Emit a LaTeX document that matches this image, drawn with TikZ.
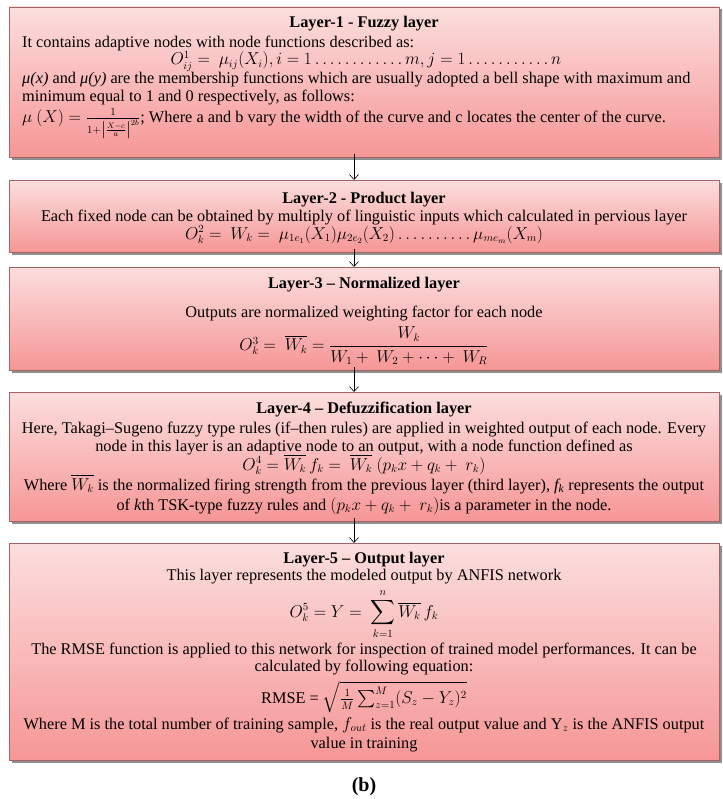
\documentclass[tikz,border=0pt]{standalone}
\usepackage{amsmath}
\usepackage{fontspec}
\setmainfont{Liberation Serif}
\usetikzlibrary{arrows.meta,shadows}
\definecolor{pinktop}{RGB}{252,222,222}
\definecolor{pinkbot}{RGB}{246,150,150}
\definecolor{boxline}{RGB}{165,100,100}
\tikzset{
  layerbox/.style={draw=boxline, line width=0.6bp, top color=pinktop, bottom color=pinkbot,
    drop shadow={shadow xshift=2.5bp, shadow yshift=-2.5bp, fill=black!55, opacity=0.8}},
  txt/.style={inner sep=0pt, anchor=base, font=\fontsize{16.3bp}{18bp}\selectfont},
  ltxt/.style={txt, anchor=base west},
  ttl/.style={txt, font=\fontsize{16.3bp}{18bp}\selectfont\bfseries},
  flow/.style={draw=black, line width=0.6bp, -{Straight Barb[length=5bp,width=9bp]}}
}
\begin{document}
\begin{tikzpicture}[x=1bp,y=-1bp]
\useasboundingbox (0,0) rectangle (723,799);
% boxes
\path[layerbox] (9,7) rectangle (719,157);
\coordinate (b1n) at (354,157);
\path[layerbox] (9,180) rectangle (719,252);
\coordinate (b2s) at (354,180); \coordinate (b2n) at (354,252);
\path[layerbox] (9,267) rectangle (719,370);
\coordinate (b3s) at (354,267); \coordinate (b3n) at (354,370);
\path[layerbox] (9,392) rectangle (719,521);
\coordinate (b4s) at (354,392); \coordinate (b4n) at (354,521);
\path[layerbox] (9,543) rectangle (719,760);
\coordinate (b5s) at (354,543);
% arrows
\draw[flow] ([yshift=3bp]b1n) -- (b2s);
\draw[flow] ([yshift=3bp]b2n) -- (b3s);
\draw[flow] ([yshift=3bp]b3n) -- (b4s);
\draw[flow] ([yshift=3bp]b4n) -- (b5s);
% Layer 1
\node[ttl] (t1) at (364,28) {Layer-1 - Fuzzy layer};
\node[ltxt] (l1a) at (22,48) {It contains adaptive nodes with node functions described as:};
\node[txt] (l1b) at (366,65) {$O^1_{ij} =\ \mu_{ij}(X_i), i = 1\ldots\ldots\ldots\ldots m, j = 1\ldots\ldots\ldots.\,.\,n$};
\node[ltxt] (l1c) at (22,83) {\textit{μ(x)} and \textit{μ(y)} are the membership functions which are usually adopted a bell shape with maximum and};
\node[ltxt] (l1d) at (22,101) {minimum equal to 1 and 0 respectively, as follows:};
\node[ltxt, anchor=west] (l1e) at (22,124) {$\mu\ (X) = \frac{1}{1+\left|\frac{X-c}{a}\right|^{2b}}$; Where a and b vary the width of the curve and c locates the center of the curve.};
% Layer 2
\node[ttl] (t2) at (364,203) {Layer-2 - Product layer};
\node[txt] (l2a) at (364,221) {Each fixed node can be obtained by multiply of linguistic inputs which calculated in pervious layer};
\node[txt] (l2b) at (364,239) {$O_k^2 =\ W_k =\ \mu_{1e_1}(X_1)\mu_{2e_2}(X_2)\ldots\ldots\ldots.\,\mu_{me_m}(X_m)$};
% Layer 3
\node[ttl] (t3) at (364,288) {Layer-3 – Normalized layer};
\node[txt] (l3a) at (364,317) {Outputs are normalized weighting factor for each node};
\node[txt, anchor=center] (l3b) at (364,346) {$O_k^3 =\ \overline{W_k} = \dfrac{W_k}{W_1 +\ W_2 + \cdots +\ W_R}$};
% Layer 4
\node[ttl] (t4) at (364,413) {Layer-4 – Defuzzification layer};
\node[txt] (l4a) at (364,433) {Here, Takagi–Sugeno fuzzy type rules (if–then rules) are applied in weighted output of each node. Every};
\node[txt] (l4b) at (364,451) {node in this layer is an adaptive node to an output, with a node function defined as};
\node[txt] (l4c) at (364,470) {$O_k^4 = \overline{W_k}\,f_k =\ \overline{W_k}\ (p_k x + q_k +\ r_k)$};
\node[txt] (l4d) at (364,490) {Where $\overline{W_k}$ is the normalized firing strength from the previous layer (third layer), \textit{f\textsubscript{k}} represents the output};
\node[txt] (l4e) at (364,510) {of \textit{k}th TSK-type fuzzy rules and $(p_k x + q_k +\ r_k)$is a parameter in the node.};
% Layer 5
\node[ttl] (t5) at (364,563) {Layer-5 – Output layer};
\node[txt] (l5a) at (364,580) {This layer represents the modeled output by ANFIS network};
\node[txt, anchor=center] (l5b) at (364,614) {$\displaystyle O_k^5 = Y =\ \sum_{k=1}^{n}\overline{W_k}\,f_k$};
\node[txt] (l5c) at (364,654) {The RMSE function is applied to this network for inspection of trained model performances. It can be};
\node[txt] (l5d) at (364,671) {calculated by following equation:};
\node[txt, anchor=center] (l5e) at (364,697) {RMSE = $\sqrt{\frac{1}{M}\sum_{z=1}^{M}(S_z - Y_z)^2}$};
\node[txt] (l5f) at (364,729) {Where M is the total number of training sample, $f_{out}$ is the real output value and Y$_z$ is the ANFIS output};
\node[txt] (l5g) at (364,748) {value in training};
% caption
\node[inner sep=0pt, font=\fontsize{20bp}{22bp}\selectfont\bfseries] (cap) at (364,787) {(b)};
\end{tikzpicture}
\end{document}
